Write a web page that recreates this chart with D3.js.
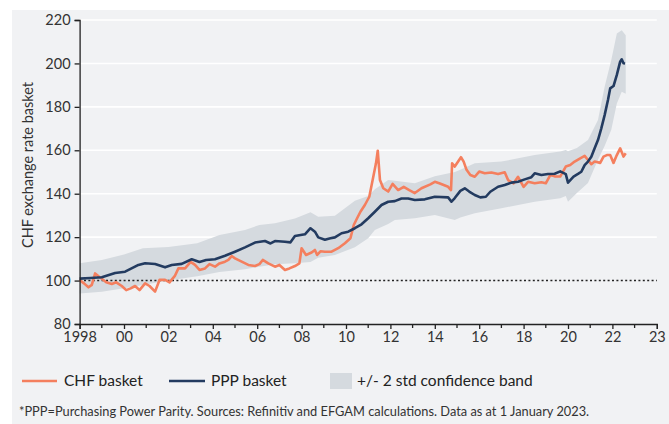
<!DOCTYPE html>
<html>
<head>
<meta charset="utf-8">
<script src="https://cdn.jsdelivr.net/npm/d3@7"></script>
<style>
  body { margin: 0; background: #fff; }
  text { font-family: Lato, "Open Sans", sans-serif; }
</style>
</head>
<body>
<script>
// PPP basket (decimal year, index)
var pppYears = [1998.0, 1998.5, 1999.0, 1999.6, 2000.05, 2000.65, 2000.95, 2001.4, 2001.85, 2002.15,
    2002.6, 2003.05, 2003.4, 2003.7, 2004.1, 2004.55, 2005.0, 2005.45, 2005.9, 2006.35,
    2006.6, 2006.8, 2007.25, 2007.5, 2007.7, 2008.15, 2008.4, 2008.6, 2008.75, 2009.05,
    2009.3, 2009.5, 2009.8, 2010.1, 2010.4, 2010.7, 2011.0, 2011.3, 2011.6, 2011.9,
    2012.2, 2012.5, 2012.8, 2013.1, 2013.55, 2014.0, 2014.6, 2014.75, 2014.9, 2015.15,
    2015.35, 2015.55, 2015.8, 2016.05, 2016.3, 2016.5, 2016.85, 2017.15, 2017.45, 2017.75,
    2018.05, 2018.35, 2018.5, 2018.8, 2019.1, 2019.4, 2019.65, 2019.9, 2020.0, 2020.25,
    2020.45, 2020.6, 2020.75, 2020.9, 2021.05, 2021.2, 2021.35, 2021.5, 2021.65, 2021.8,
    2021.9, 2022.05, 2022.2, 2022.35, 2022.42, 2022.5, 2022.57];
var pppValues = [100.9, 101.2, 101.5, 103.5, 104.1, 107.2, 108.0, 107.6, 106.1, 107.2,
    107.7, 109.8, 108.6, 109.5, 109.8, 111.4, 113.3, 115.3, 117.5, 118.2,
    117.1, 118.2, 117.9, 117.6, 120.5, 121.3, 124.1, 122.5, 119.9, 118.8,
    119.5, 119.9, 121.8, 122.5, 124.1, 125.9, 128.7, 131.7, 134.8, 136.3,
    136.6, 137.8, 137.8, 137.1, 137.4, 138.6, 138.3, 136.3, 138.0, 141.3,
    142.5, 141.0, 139.4, 138.3, 138.6, 140.9, 143.2, 144.0, 145.1, 145.5,
    146.6, 147.6, 149.4, 148.6, 149.1, 149.2, 150.3, 149.0, 145.1, 147.9,
    149.1, 150.1, 153.2, 154.8, 157.0, 160.9, 164.7, 170.1, 176.2, 183.2,
    188.5, 189.6, 194.7, 200.8, 201.9, 200.1, 200.0];

// CHF basket
var chfYears = [1998.0, 1998.2, 1998.4, 1998.55, 1998.7, 1998.85, 1999.0, 1999.2, 1999.45, 1999.65,
    1999.9, 2000.1, 2000.3, 2000.5, 2000.7, 2000.95, 2001.15, 2001.4, 2001.6, 2001.85,
    2002.05, 2002.3, 2002.45, 2002.75, 2003.0, 2003.2, 2003.4, 2003.65, 2003.85, 2004.1,
    2004.3, 2004.55, 2004.7, 2004.85, 2005.0, 2005.3, 2005.6, 2005.9, 2006.1, 2006.25,
    2006.5, 2006.8, 2007.0, 2007.25, 2007.45, 2007.7, 2007.9, 2008.0, 2008.2, 2008.45,
    2008.6, 2008.7, 2008.85, 2009.05, 2009.35, 2009.65, 2009.95, 2010.2, 2010.35, 2010.5,
    2010.65, 2010.85, 2011.05, 2011.2, 2011.35, 2011.43, 2011.53, 2011.68, 2011.9, 2012.1,
    2012.35, 2012.6, 2012.85, 2013.1, 2013.4, 2013.8, 2014.0, 2014.2, 2014.6, 2014.73,
    2014.78, 2014.9, 2015.05, 2015.18, 2015.3, 2015.43, 2015.6, 2015.8, 2016.0, 2016.25,
    2016.55, 2016.85, 2017.15, 2017.3, 2017.55, 2017.75, 2018.0, 2018.2, 2018.5, 2018.8,
    2019.0, 2019.2, 2019.4, 2019.65, 2019.9, 2020.1, 2020.3, 2020.55, 2020.75, 2020.9,
    2021.05, 2021.2, 2021.45, 2021.6, 2021.75, 2021.9, 2022.05, 2022.2, 2022.35, 2022.5,
    2022.6];
var chfValues = [100.3, 98.7, 96.9, 98.0, 103.3, 102.0, 100.8, 99.2, 98.4, 99.2,
    97.5, 95.6, 96.4, 97.5, 95.6, 98.7, 97.5, 94.9, 100.3, 100.3,
    99.2, 102.3, 105.6, 105.6, 108.6, 107.2, 104.9, 105.6, 107.6, 106.4,
    107.9, 108.7, 109.5, 111.3, 110.2, 108.7, 107.2, 106.7, 107.6, 109.5,
    107.9, 106.4, 107.2, 104.9, 105.6, 106.7, 107.9, 114.9, 111.8, 112.9,
    114.1, 111.8, 113.5, 113.3, 113.3, 114.9, 117.2, 119.5, 125.6, 128.7,
    131.7, 134.8, 138.6, 146.3, 154.0, 159.8, 146.3, 142.5, 141.0, 144.5,
    141.7, 143.2, 141.7, 140.3, 142.5, 144.3, 145.5, 144.8, 143.2, 141.7,
    154.0, 152.5, 154.8, 156.8, 154.8, 151.0, 148.6, 147.8, 150.2, 149.4,
    149.8, 149.1, 149.9, 146.3, 144.8, 147.8, 143.2, 145.5, 144.8, 145.3,
    144.8, 148.6, 148.0, 147.9, 152.5, 153.2, 154.8, 156.3, 157.4, 155.5,
    153.6, 154.8, 154.2, 157.1, 157.8, 157.8, 154.2, 157.8, 160.9, 157.1,
    158.6];

// +/- 2 std confidence band
var bandYears = [1998.0, 1999.0, 2000.0, 2000.85, 2002.0, 2003.3, 2004.3, 2005.45, 2006.1, 2006.8,
    2007.7, 2008.4, 2008.75, 2009.5, 2010.4, 2011.0, 2011.3, 2011.9, 2012.2, 2013.1,
    2014.0, 2014.9, 2015.15, 2015.8, 2017.0, 2018.5, 2019.65, 2019.9, 2020.0, 2020.4,
    2020.9, 2021.35, 2021.65, 2021.95, 2022.2, 2022.42, 2022.6];
var bandLower = [94.1, 94.9, 96.5, 98.0, 100.0, 102.0, 104.0, 105.2, 106.4, 107.5,
    108.0, 108.5, 110.5, 111.8, 115.3, 119.5, 123.3, 126.0, 127.9, 128.7,
    130.2, 127.9, 129.0, 131.0, 133.3, 136.3, 137.9, 139.0, 136.3, 140.3,
    144.9, 155.6, 162.0, 169.4, 181.6, 187.0, 186.0];
var bandUpper = [108.0, 109.5, 112.0, 114.9, 115.5, 117.2, 121.0, 123.3, 125.6, 126.4,
    128.6, 131.5, 129.4, 129.9, 136.8, 139.0, 142.0, 146.3, 146.0, 144.8,
    148.0, 150.0, 151.0, 154.0, 154.8, 157.8, 159.4, 160.1, 159.5, 161.0,
    164.7, 173.9, 189.3, 201.6, 213.8, 215.3, 213.0];

var yTicks = [80, 100, 120, 140, 160, 180, 200, 220];
var xTickYears = [1998, 2000, 2002, 2004, 2006, 2008, 2010, 2012, 2014, 2016, 2018, 2020, 2022, 2024];
var xTickLabels = ["1998", "00", "02", "04", "06", "08", "10", "12", "14", "16", "18", "20", "22", "23"];
var xMinorYears = d3.range(1999, 2024, 2);

var width = 669, height = 424;
var margin = {top: 20, right: 12.2, bottom: 100, left: 79.6};

var svg = d3.select("body").append("svg")
    .attr("width", width)
    .attr("height", height);

svg.append("rect")
    .attr("x", 12).attr("y", 10)
    .attr("width", width - 12).attr("height", height - 10)
    .attr("fill", "#f1f2f4");

var x = d3.scaleLinear()
    .domain([1998, 2024])
    .range([margin.left, width - margin.right]);

var y = d3.scaleLinear()
    .domain([80, 220])
    .range([height - margin.bottom, margin.top]);

// gridlines
svg.append("g")
    .selectAll("line")
    .data(yTicks.filter(function(d) { return d > 100; }))
    .enter().append("line")
    .attr("x1", x(1998)).attr("x2", x(2024))
    .attr("y1", function(d) { return y(d); })
    .attr("y2", function(d) { return y(d); })
    .attr("stroke", "#fff")
    .attr("stroke-width", 1.6);

// confidence band
var band = bandYears.map(function(t, i) { return {t: t, lo: bandLower[i], hi: bandUpper[i]}; });
svg.append("path")
    .datum(band)
    .attr("fill", "#d5dadf")
    .attr("d", d3.area()
        .x(function(d) { return x(d.t); })
        .y0(function(d) { return y(d.lo); })
        .y1(function(d) { return y(d.hi); }));

// 100 reference line
svg.append("line")
    .attr("x1", x(1998)).attr("x2", x(2024))
    .attr("y1", y(100)).attr("y2", y(100))
    .attr("stroke", "#222")
    .attr("stroke-width", 1.5)
    .attr("stroke-dasharray", "2,2.4");

var line = d3.line()
    .x(function(d) { return x(d[0]); })
    .y(function(d) { return y(d[1]); });

svg.append("path")
    .datum(chfYears.map(function(t, i) { return [t, chfValues[i]]; }))
    .attr("fill", "none")
    .attr("stroke", "#f47f5e")
    .attr("stroke-width", 2.6)
    .attr("stroke-linejoin", "round")
    .attr("d", line);

svg.append("path")
    .datum(pppYears.map(function(t, i) { return [t, pppValues[i]]; }))
    .attr("fill", "none")
    .attr("stroke", "#233b60")
    .attr("stroke-width", 2.6)
    .attr("stroke-linejoin", "round")
    .attr("d", line);

// axes
var yAxis = svg.append("g")
    .attr("transform", "translate(" + margin.left + ",0)")
    .call(d3.axisLeft(y).tickValues(yTicks).tickSize(5).tickPadding(4));
yAxis.select(".domain").attr("stroke", "#222").attr("stroke-width", 1.3);
yAxis.selectAll(".tick line").attr("stroke", "#222").attr("stroke-width", 1.3);
yAxis.selectAll("text").attr("font-size", 14.5).attr("fill", "#333")
    .style("font-family", "Lato, sans-serif");

var xAxis = svg.append("g")
    .attr("transform", "translate(0," + y(80) + ")")
    .call(d3.axisBottom(x).tickValues(xTickYears).tickSize(5).tickPadding(3)
        .tickFormat(function(d, i) { return xTickLabels[i]; }));
xAxis.select(".domain").attr("stroke", "#222").attr("stroke-width", 1.3);
xAxis.selectAll(".tick line").attr("stroke", "#222").attr("stroke-width", 1.3);
xAxis.selectAll("text").attr("font-size", 14.5).attr("fill", "#333")
    .style("font-family", "Lato, sans-serif");

svg.append("g")
    .selectAll("line")
    .data(xMinorYears)
    .enter().append("line")
    .attr("x1", function(d) { return x(d); })
    .attr("x2", function(d) { return x(d); })
    .attr("y1", y(80)).attr("y2", y(80) + 4)
    .attr("stroke", "#222")
    .attr("stroke-width", 1.3);

svg.append("text")
    .attr("transform", "translate(33,165) rotate(-90)")
    .attr("text-anchor", "middle")
    .attr("font-size", 14.5)
    .attr("fill", "#333")
    .text("CHF exchange rate basket");

// legend
var legendY = 381;
var legend = svg.append("g");
legend.append("line").attr("x1", 22).attr("x2", 57).attr("y1", legendY).attr("y2", legendY)
    .attr("stroke", "#f47f5e").attr("stroke-width", 2.6);
legend.append("text").attr("x", 64).attr("y", legendY + 5).attr("font-size", 15.5).attr("fill", "#222")
    .text("CHF basket");
legend.append("line").attr("x1", 169).attr("x2", 205).attr("y1", legendY).attr("y2", legendY)
    .attr("stroke", "#233b60").attr("stroke-width", 2.6);
legend.append("text").attr("x", 211).attr("y", legendY + 5).attr("font-size", 15.5).attr("fill", "#222")
    .text("PPP basket");
legend.append("rect").attr("x", 330).attr("y", legendY - 8).attr("width", 22).attr("height", 16)
    .attr("fill", "#d5dadf");
legend.append("text").attr("x", 357).attr("y", legendY + 5).attr("font-size", 15.5).attr("fill", "#222")
    .text("+/- 2 std confidence band");

svg.append("text")
    .attr("x", 19).attr("y", 416)
    .attr("font-size", 12.8)
    .attr("fill", "#333")
    .text("*PPP=Purchasing Power Parity. Sources: Refinitiv and EFGAM calculations. Data as at 1 January 2023.");
</script>
</body>
</html>
